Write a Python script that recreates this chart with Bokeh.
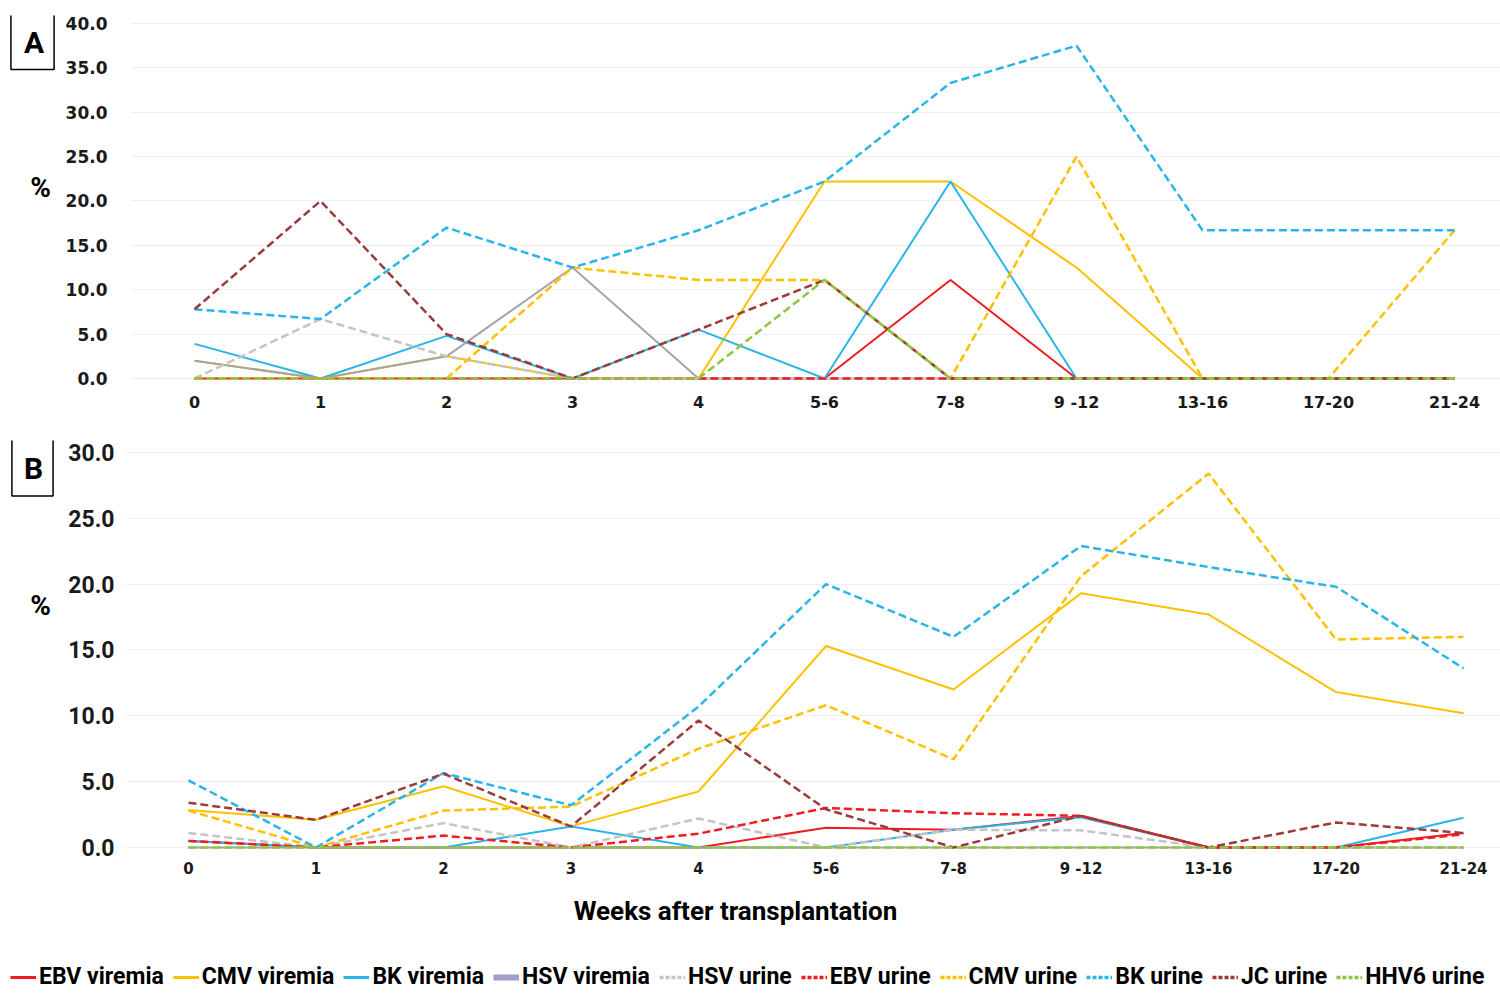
from bokeh.plotting import figure
from bokeh.layouts import column, row
from bokeh.models import Range1d, FixedTicker, NumeralTickFormatter, Label, Legend, LegendItem
from bokeh.embed import file_html
from bokeh.resources import INLINE

weeks = ["0", "1", "2", "3", "4", "5-6", "7-8", "9 -12", "13-16", "17-20", "21-24"]

# Panel A values (%)
ebv_viremia_a = [0, 0, 0, 0, 0, 0, 11.1, 0, 0, 0, 0]
cmv_viremia_a = [2.0, 0, 2.5, 0, 0, 22.2, 22.2, 12.5, 0, 0, 0]
bk_viremia_a = [3.9, 0, 4.8, 0, 5.5, 0, 22.2, 0, 0, 0, 0]
hsv_viremia_a = [2.0, 0, 2.5, 12.5, 0, 0, 0, 0, 0, 0, 0]
hsv_urine_a = [0, 6.7, 2.5, 0, 0, 0, 0, 0, 0, 0, 0]
ebv_urine_a = [0, 0, 0, 0, 0, 0, 0, 0, 0, 0, 0]
cmv_urine_a = [0, 0, 0, 12.5, 11.1, 11.1, 0, 25.0, 0, 0, 16.7]
bk_urine_a = [7.8, 6.7, 17.0, 12.5, 16.7, 22.2, 33.3, 37.5, 16.7, 16.7, 16.7]
jc_urine_a = [7.8, 20.0, 5.0, 0, 5.5, 11.1, 0, 0, 0, 0, 0]
hhv6_urine_a = [0, 0, 0, 0, 0, 11.1, 0, 0, 0, 0, 0]

# Panel B values (%)
ebv_viremia_b = [0.5, 0, 0, 0, 0, 1.5, 1.35, 2.4, 0, 0, 1.1]
cmv_viremia_b = [2.85, 2.1, 4.65, 1.6, 4.25, 15.3, 12.0, 19.3, 17.7, 11.8, 10.2]
bk_viremia_b = [0.5, 0, 0, 1.6, 0, 0, 1.35, 2.3, 0, 0, 2.25]
hsv_viremia_b = [0, 0, 0, 0, 0, 0, 0, 0, 0, 0, 0]
hsv_urine_b = [1.1, 0, 1.85, 0, 2.2, 0, 1.35, 1.3, 0, 0, 0]
ebv_urine_b = [0.5, 0, 0.9, 0, 1.05, 3.0, 2.6, 2.4, 0, 0, 1.0]
cmv_urine_b = [2.8, 0, 2.8, 3.1, 7.5, 10.8, 6.7, 20.6, 28.4, 15.8, 16.0]
bk_urine_b = [5.1, 0, 5.65, 3.2, 10.7, 20.0, 16.0, 22.9, 21.3, 19.8, 13.6]
jc_urine_b = [3.4, 2.1, 5.6, 1.6, 9.65, 2.9, 0, 2.4, 0, 1.9, 1.1]
hhv6_urine_b = [0, 0, 0, 0, 0, 0, 0, 0, 0, 0, 0]

series_names = ["EBV viremia", "CMV viremia", "BK viremia", "HSV viremia", "HSV urine",
                "EBV urine", "CMV urine", "BK urine", "JC urine", "HHV6 urine"]

RED, YEL, BLU, GRY, LGR, BRN, GRN, PUR = ("#ee1d23", "#ffc000", "#29b5e8", "#a5a5a5",
                                          "#c4c4c4", "#9e3a3a", "#8dc63f", "#a89bc9")
line_styles = [
    (RED, "solid", 2), (YEL, "solid", 2), (BLU, "solid", 2), (GRY, "solid", 2),
    (LGR, "8 4", 2.5), (RED, "8 4", 2.5), (YEL, "8 4", 2.5), (BLU, "8 4", 2.5),
    (BRN, "8 4", 2.5), (GRN, "8 4", 2.5),
]
legend_styles = [
    (RED, "solid", 3), (YEL, "solid", 3), (BLU, "solid", 3), (PUR, "solid", 6),
    (LGR, "4 2", 3.5), (RED, "4 2", 3.5), (YEL, "4 2", 3.5), (BLU, "4 2", 3.5),
    (BRN, "4 2", 3.5), (GRN, "4 2", 3.5),
]

data_a = [ebv_viremia_a, cmv_viremia_a, bk_viremia_a, hsv_viremia_a, hsv_urine_a,
          ebv_urine_a, cmv_urine_a, bk_urine_a, jc_urine_a, hhv6_urine_a]
data_b = [ebv_viremia_b, cmv_viremia_b, bk_viremia_b, hsv_viremia_b, hsv_urine_b,
          ebv_urine_b, cmv_urine_b, bk_urine_b, jc_urine_b, hhv6_urine_b]

NARROW = "Roboto"
xs = list(range(len(weeks)))


def blank_fig(width, height):
    p = figure(width=width, height=height, output_backend="svg", toolbar_location=None,
               x_range=Range1d(0, width), y_range=Range1d(0, height),
               x_axis_location=None, y_axis_location=None, min_border=0, align="start")
    p.outline_line_color = None
    p.grid.grid_line_color = None
    return p


def make_panel(data, x_range, y_range, yticks, width, height, borders,
               yfont, yfont_size, ystandoff, xfont_size, xstandoff):
    p = figure(width=width, height=height, output_backend="svg", toolbar_location=None,
               x_range=x_range, y_range=y_range, align="start",
               min_border_left=borders[0], min_border_right=borders[1],
               min_border_top=borders[2], min_border_bottom=borders[3])
    p.outline_line_color = None
    p.xgrid.grid_line_color = None
    p.ygrid.grid_line_color = "#efefef"
    p.ygrid.ticker = FixedTicker(ticks=yticks)
    p.yaxis.ticker = FixedTicker(ticks=yticks)
    p.yaxis.formatter = NumeralTickFormatter(format="0.0")
    p.xaxis.ticker = FixedTicker(ticks=xs)
    p.xaxis.major_label_overrides = {i: w for i, w in enumerate(weeks)}
    for ax in (p.xaxis, p.yaxis):
        ax.axis_line_color = None
        ax.major_tick_line_color = None
        ax.minor_tick_line_color = None
        ax.major_tick_out = 0
        ax.major_tick_in = 0
        ax.minor_tick_out = 0
        ax.major_label_text_font_style = "bold"
        ax.major_label_text_color = "#1a1a1a"
    p.yaxis.major_label_text_font = yfont
    p.yaxis.major_label_text_font_size = yfont_size
    p.yaxis.major_label_standoff = ystandoff
    p.xaxis.major_label_text_font = "DejaVu Sans"
    p.xaxis.major_label_text_font_size = xfont_size
    p.xaxis.major_label_standoff = xstandoff
    for vals, (c, d, w) in zip(data, line_styles):
        p.line(xs, vals, line_color=c, line_dash=d, line_width=w)
    return p


def add_box_label(p, text, x, y, pad):
    p.add_layout(Label(x=x, y=y, x_units="screen", y_units="screen", text=text,
                       text_align="center", text_baseline="middle",
                       text_font=NARROW, text_font_style="bold", text_font_size="30px",
                       text_color="black",
                       border_line_color="black", border_line_width=1.5,
                       background_fill_color="white", padding=pad))


def add_text(p, text, x, y, size):
    p.add_layout(Label(x=x, y=y, x_units="screen", y_units="screen", text=text,
                       text_align="center", text_baseline="middle",
                       text_font=NARROW, text_font_style="bold", text_font_size=size,
                       text_color="black"))


# Panel A (side figure frame is aligned with the main frame: 15..388)
sideA = blank_fig(56, 420)
add_box_label(sideA, "A", 32, 348, (13, 10, 13, 10))
add_text(sideA, "%", 40, 201, "28px")
pA = make_panel(data_a, Range1d(-0.5, 10.365), Range1d(-1.127, 40.9), list(range(0, 41, 5)),
                1444, 420, (75, 0, 15, 32), "DejaVu Sans", "17px", 24, "16px", 4)

# Panel B (frame 440..855)
sideB = blank_fig(56, 460)
add_box_label(sideB, "B", 32, 388, (12, 10, 12, 10))
add_text(sideB, "%", 40, 250, "28px")
pB = make_panel(data_b, Range1d(-0.494, 10.29), Range1d(-0.61, 30.91), list(range(0, 31, 5)),
                1444, 460, (69, 0, 20, 25), NARROW, "23px", 11, "15px", 4)

# Bottom: axis title and legend
bottom = blank_fig(1500, 118)
add_text(bottom, "Weeks after transplantation", 735, 88, "26px")
items = []
for name, (c, d, w) in zip(series_names, legend_styles):
    r = bottom.line(x=[0, 1], y=[-100, -100], line_color=c, line_dash=d, line_width=w)
    items.append(LegendItem(label=name, renderers=[r]))
legend = Legend(items=items, orientation="horizontal", location=(10, 8),
                label_text_font=NARROW, label_text_font_style="bold",
                label_text_font_size="23px", label_text_color="black",
                glyph_width=26, glyph_height=20, label_standoff=3, spacing=9,
                padding=0, margin=0, border_line_color=None,
                background_fill_alpha=0)
bottom.add_layout(legend, "center")

layout = column(row(sideA, pA, spacing=0), row(sideB, pB, spacing=0), bottom, spacing=0)
open("out.html", "w").write(file_html(layout, INLINE))
